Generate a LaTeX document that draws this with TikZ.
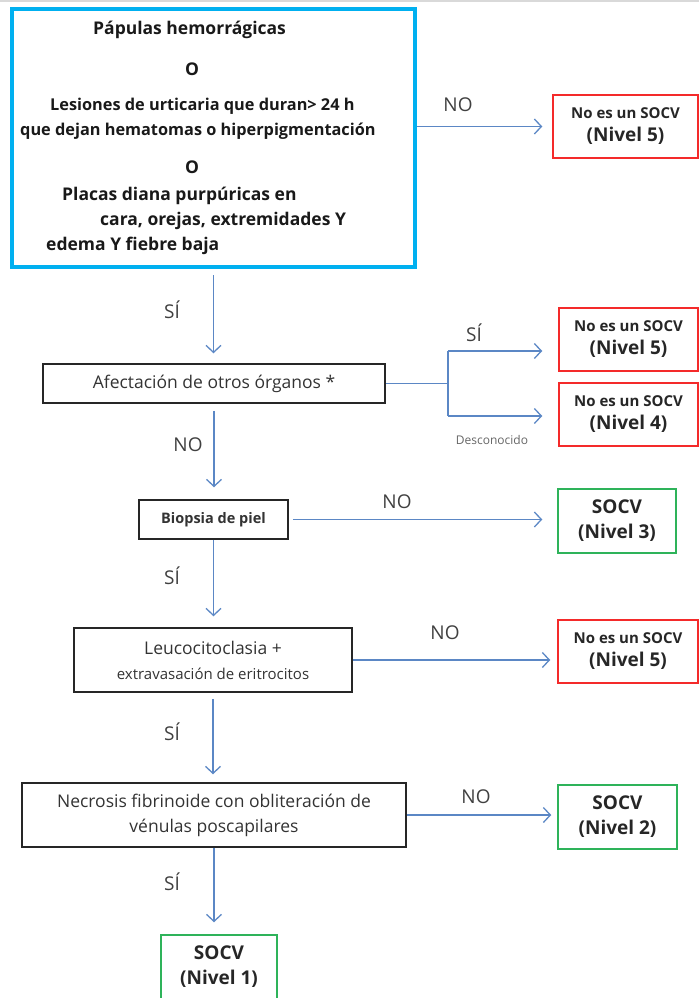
\documentclass[tikz,border=0pt]{standalone}
\usepackage{fontspec}
\setmainfont{Open Sans}
\usetikzlibrary{arrows.meta}

\definecolor{critblue}{HTML}{00B0F0}
\definecolor{nored}{HTML}{F42A2A}
\definecolor{yesgreen}{HTML}{2EB35A}
\definecolor{flowblue}{HTML}{5B87C5}
\definecolor{labelgray}{HTML}{404040}

\begin{document}
\begin{tikzpicture}[x=1pt, y=-1pt]

\useasboundingbox (0, 0) rectangle (699, 998) ;

% page edge

\draw [line width=1.5pt, color=black!15] (0, 1) -- (699, 1) ;

% entry criteria

\tikzstyle{criteria box} = [draw=critblue, line width=4pt, inner sep=0pt, minimum width=403pt, minimum height=258pt]
\tikzstyle{criteria line} = [anchor=base west, inner sep=0pt, font=\fontsize{17.5}{20}\selectfont\bfseries, text=black!90]

\def\smallcrit{\fontsize{16.3}{20}\selectfont\bfseries}

\node [criteria box] (crit) at (213.5, 138) {} ;

\node [criteria line] (papulas) at (93, 35) {Pápulas hemorrágicas} ;
\node [criteria line] (orA) at (185, 75) {O} ;
\node [criteria line, font=\smallcrit] (lesiones) at (50, 110) {Lesiones de urticaria que duran> 24 h} ;
\node [criteria line, font=\smallcrit] (dejan) at (20, 135) {que dejan hematomas o hiperpigmentación} ;
\node [criteria line] (orB) at (185, 173) {O} ;
\node [criteria line] (placas) at (62, 200) {Placas diana purpúricas en} ;
\node [criteria line] (cara) at (100, 225) {cara, orejas, extremidades Y} ;
\node [criteria line] (edema) at (46, 250) {edema Y fiebre baja} ;

% decision boxes

\tikzstyle{check box} = [draw=black!85, line width=1.5pt, inner sep=0pt, align=center, font=\fontsize{17.5}{25}\selectfont, text=black!80]

\node [check box, minimum width=342pt, minimum height=39pt] (afect) at (214, 383.5) {Afectación de otros órganos *} ;
\node [check box, minimum width=149pt, minimum height=39pt, font=\fontsize{14.5}{16}\selectfont\bfseries] (biopsia) at (213.5, 519.5) {Biopsia de piel} ;
\node [check box, minimum width=278pt, minimum height=64pt] (leuco) at (213, 660)
	{Leucocitoclasia +\\{\fontsize{15}{25}\selectfont extravasación de eritrocitos}} ;
\node [check box, minimum width=384pt, minimum height=64pt] (necro) at (214, 815)
	{Necrosis fibrinoide con obliteración de\\vénulas poscapilares} ;

% outcomes

\tikzstyle{no box} = [draw=nored, line width=1.5pt, inner sep=0pt, align=center, minimum height=63pt,
	font=\fontsize{15}{23}\selectfont\bfseries, text=black!85]
\tikzstyle{yes box} = [draw=yesgreen, line width=1.5pt, inner sep=0pt, align=center, minimum height=64pt,
	font=\fontsize{19}{25}\selectfont\bfseries, text=black!85]

\def\levelfont{\fontsize{19}{23}\selectfont}

\node [no box, minimum width=145pt] (rno1) at (625.5, 126.5) {No es un SOCV\\{\levelfont (Nivel 5)}} ;
\node [no box, minimum width=139pt] (rno2) at (628.5, 339.5) {No es un SOCV\\{\levelfont (Nivel 5)}} ;
\node [no box, minimum width=139pt] (rno3) at (628.5, 414.5) {No es un SOCV\\{\levelfont (Nivel 4)}} ;
\node [no box, minimum width=140pt] (rno4) at (628, 651.5) {No es un SOCV\\{\levelfont (Nivel 5)}} ;

\node [yes box, minimum width=118pt] (socv3) at (617, 521) {SOCV\\{\levelfont (Nivel 3)}} ;
\node [yes box, minimum width=119pt] (socv2) at (617.5, 817) {SOCV\\{\levelfont (Nivel 2)}} ;
\node [yes box, minimum width=116pt] (socv1) at (219, 967) {SOCV\\{\levelfont (Nivel 1)}} ;

% connectors

\tikzstyle{flow line} = [line width=1.3pt, color=flowblue]
\tikzstyle{flow arrow} = [flow line, -{Straight Barb[length=7pt, width=15pt]}, shorten >=10pt]

\draw [flow arrow] (crit.east |- rno1.west) -- (rno1.west) ;

\draw [flow arrow, shorten <=6pt] (crit.south) -- (crit.south |- afect.north) ;

\coordinate (split) at (448, 383.5) ;
\coordinate (splitup) at (448, 351) ;
\coordinate (splitdown) at (448, 416) ;

\draw [flow line] (afect.east) -- (split) ;
\draw [flow line] (splitup) -- (splitdown) ;
\draw [flow arrow, shorten >=16pt] (splitup) -- (splitup -| rno2.west) ;
\draw [flow arrow, shorten >=16pt] (splitdown) -- (splitdown -| rno3.west) ;

\draw [flow arrow, shorten <=7pt, shorten >=12pt] (afect.south) -- (afect.south |- biopsia.north) ;
\draw [flow arrow, shorten <=4pt, shorten >=15pt] (biopsia.east) -- (biopsia.east -| socv3.west) ;

\draw [flow arrow, shorten >=11pt] (biopsia.south) -- (biopsia.south |- leuco.north) ;
\draw [flow arrow, shorten >=7pt] (leuco.east) -- (leuco.east -| rno4.west) ;

\draw [flow arrow, shorten <=6pt, shorten >=8pt] (leuco.south) -- (leuco.south |- necro.north) ;
\draw [flow arrow, shorten >=6pt] (necro.east) -- (necro.east -| socv2.west) ;

\draw [flow arrow, shorten >=12pt] (necro.south) -- (necro.south |- socv1.north) ;

% answers

\tikzstyle{answer} = [font=\fontsize{19}{22}\selectfont, text=labelgray, inner sep=0pt]

\node [answer] (no1) at (458, 105) {NO} ;
\node [answer] (si1) at (172, 310) {SÍ} ;
\node [answer] (si2) at (474, 333) {SÍ} ;
\node [font=\fontsize{12}{14}\selectfont, text=black!60, inner sep=0pt] (desc) at (492, 440) {Desconocido} ;
\node [answer] (no2) at (188, 445) {NO} ;
\node [answer] (no3) at (397, 502) {NO} ;
\node [answer] (si3) at (172, 576) {SÍ} ;
\node [answer] (no4) at (445, 633) {NO} ;
\node [answer] (si4) at (172, 732) {SÍ} ;
\node [answer] (no5) at (476, 797) {NO} ;
\node [answer] (si5) at (172, 882) {SÍ} ;

\end{tikzpicture}
\end{document}
